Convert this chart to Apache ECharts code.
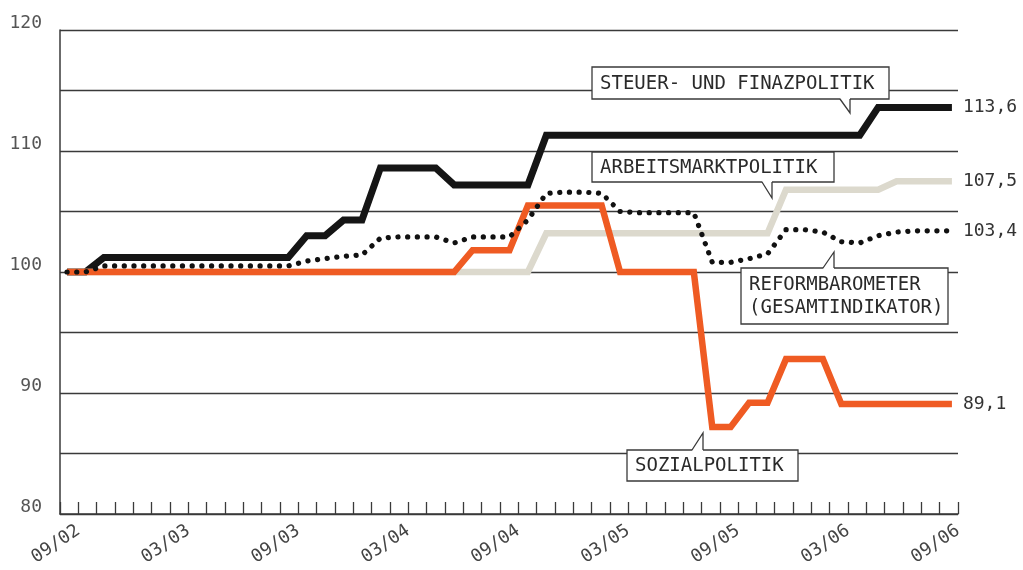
<!DOCTYPE html>
<html><head><meta charset="utf-8">
<script src="https://cdn.jsdelivr.net/npm/echarts@6/dist/echarts.min.js"></script>
<style>html,body{margin:0;padding:0;background:#fff}#c{width:1023px;height:570px}</style>
</head><body><div id="c"></div>
<script>
// Months 09/02 .. 09/06 (49 monthly points)
const xTickLabels = ['09/02','03/03','09/03','03/04','09/04','03/05','09/05','03/06','09/06'];
const yTickLabels = ['80','90','100','110','120'];

const steuerFinanz = [100,100,101.2,101.2,101.2,101.2,101.2,101.2,101.2,101.2,101.2,101.2,101.2,103.0,103.0,104.3,104.3,108.6,108.6,108.6,108.6,107.2,107.2,107.2,107.2,107.2,111.3,111.3,111.3,111.3,111.3,111.3,111.3,111.3,111.3,111.3,111.3,111.3,111.3,111.3,111.3,111.3,111.3,111.3,113.6,113.6,113.6,113.6,113.6];
const arbeitsmarkt = [100,100,100,100,100,100,100,100,100,100,100,100,100,100,100,100,100,100,100,100,100,100,100,100,100,100,103.2,103.2,103.2,103.2,103.2,103.2,103.2,103.2,103.2,103.2,103.2,103.2,103.2,106.8,106.8,106.8,106.8,106.8,106.8,107.5,107.5,107.5,107.5];
const sozial = [100,100,100,100,100,100,100,100,100,100,100,100,100,100,100,100,100,100,100,100,100,100,101.8,101.8,101.8,105.5,105.5,105.5,105.5,105.5,100,100,100,100,100,87.2,87.2,89.2,89.2,92.8,92.8,92.8,89.1,89.1,89.1,89.1,89.1,89.1,89.1];
const reform = [100,100,100.5,100.5,100.5,100.5,100.5,100.5,100.5,100.5,100.5,100.5,100.5,100.9,101.1,101.3,101.4,102.8,102.9,102.9,102.9,102.4,102.9,102.9,102.9,104.3,106.5,106.6,106.6,106.5,105.0,104.9,104.9,104.9,104.9,100.8,100.8,101.1,101.5,103.5,103.5,103.3,102.5,102.4,103.0,103.3,103.4,103.4,103.4];

const MONO = '"DejaVu Sans Mono","Liberation Mono",monospace';
const pts = arr => arr.map((v, i) => [i, v]);
const fmt = p => p.value[1].toFixed(1).replace('.', ',');

function callout(x, y, w, h, text, tail) {
  const base = tail.dir === 'down' ? y + h : y;
  const inset = tail.dir === 'down' ? -1.5 : 1.5;
  return [
    { type: 'rect', z: 50, shape: { x: x, y: y, width: w, height: h },
      style: { fill: '#fff', stroke: '#3a3a3a', lineWidth: 1.3 } },
    { type: 'polygon', z: 51, shape: { points: [[tail.x1 + 0.8, base + inset], [tail.x1, base], [tail.x2, tail.tip], [tail.x2, base + inset]] },
      style: { fill: '#fff', stroke: null } },
    { type: 'polyline', z: 52, shape: { points: [[tail.x1, base], [tail.x2, tail.tip], [tail.x2, base]] },
      style: { stroke: '#3a3a3a', lineWidth: 1.3, fill: null } },
    { type: 'text', z: 53, x: x + 8, y: y + h / 2 + 1,
      style: { text: text, font: '19px ' + MONO, fill: '#2a2a2a', verticalAlign: 'middle', lineHeight: 23 } }
  ];
}

const chart = echarts.init(document.getElementById('c'), null, { renderer: 'canvas' });
chart.setOption({
  animation: false,
  backgroundColor: '#fff',
  grid: { left: 60, right: 65, top: 30, bottom: 56, containLabel: false },
  xAxis: [
    { type: 'value', min: -1, max: 48, interval: 1,
      axisLine: { show: true, onZero: false, lineStyle: { color: '#3a3a3a', width: 1.5 } },
      axisTick: { show: true, inside: true, length: 12, lineStyle: { color: '#3a3a3a', width: 1.3 } },
      splitLine: { show: false },
      axisLabel: { show: true, rotate: 34, margin: 15, fontFamily: MONO, fontSize: 18, color: '#444',
        showMinLabel: true, showMaxLabel: true, hideOverlap: false,
        formatter: v => (v >= 0 && v % 6 === 0) ? xTickLabels[v / 6] : '' } },
    { type: 'value', min: -0.38, max: 48.33, show: false }
  ],
  yAxis: {
    type: 'value', min: 80, max: 120, interval: 5,
    axisLine: { show: true, onZero: false, lineStyle: { color: '#3a3a3a', width: 1.5 } },
    axisTick: { show: false },
    splitLine: { show: true, lineStyle: { color: '#3a3a3a', width: 1.3 } },
    axisLabel: { margin: 18, fontFamily: MONO, fontSize: 18, color: '#555', verticalAlign: 'bottom', lineHeight: 14,
      formatter: v => (v % 10 === 0) ? yTickLabels[(v - 80) / 10] : '' }
  },
  series: [
    { name: 'Steuer- und Finanzpolitik', type: 'line', xAxisIndex: 1, data: pts(steuerFinanz), symbol: 'none', z: 3,
      lineStyle: { color: '#151515', width: 7, join: 'miter' },
      endLabel: { show: true, formatter: fmt, distance: 11, fontFamily: MONO, fontSize: 18, color: '#333' } },
    { name: 'Arbeitsmarktpolitik', type: 'line', xAxisIndex: 1, data: pts(arbeitsmarkt), symbol: 'none', z: 4,
      lineStyle: { color: '#dcd9cd', width: 6.5, join: 'miter' },
      endLabel: { show: true, formatter: fmt, distance: 11, fontFamily: MONO, fontSize: 18, color: '#333' } },
    { name: 'Sozialpolitik', type: 'line', xAxisIndex: 1, data: pts(sozial), symbol: 'none', z: 5,
      lineStyle: { color: '#ef5b23', width: 6.5, join: 'miter' },
      endLabel: { show: true, formatter: fmt, distance: 11, fontFamily: MONO, fontSize: 18, color: '#333' } },
    { name: 'Reformbarometer (Gesamtindikator)', type: 'line', xAxisIndex: 1, data: pts(reform), symbol: 'none', z: 6,
      lineStyle: { color: '#111', width: 5.2, type: [0.1, 9.6], cap: 'round', join: 'round' },
      endLabel: { show: true, formatter: fmt, distance: 11, fontFamily: MONO, fontSize: 18, color: '#333' } }
  ],
  graphic: { elements: [].concat(
    callout(592, 67, 297, 32, 'STEUER- UND FINAZPOLITIK', { dir: 'down', x1: 840, x2: 850, tip: 113 }),
    callout(592, 152, 242, 30, 'ARBEITSMARKTPOLITIK', { dir: 'down', x1: 762, x2: 772, tip: 198 }),
    callout(741, 268, 207, 56, 'REFORMBAROMETER\n(GESAMTINDIKATOR)', { dir: 'up', x1: 823, x2: 834, tip: 252 }),
    callout(627, 450, 171, 31, 'SOZIALPOLITIK', { dir: 'up', x1: 692, x2: 703, tip: 433 })
  ) }
});
</script>
</body></html>
